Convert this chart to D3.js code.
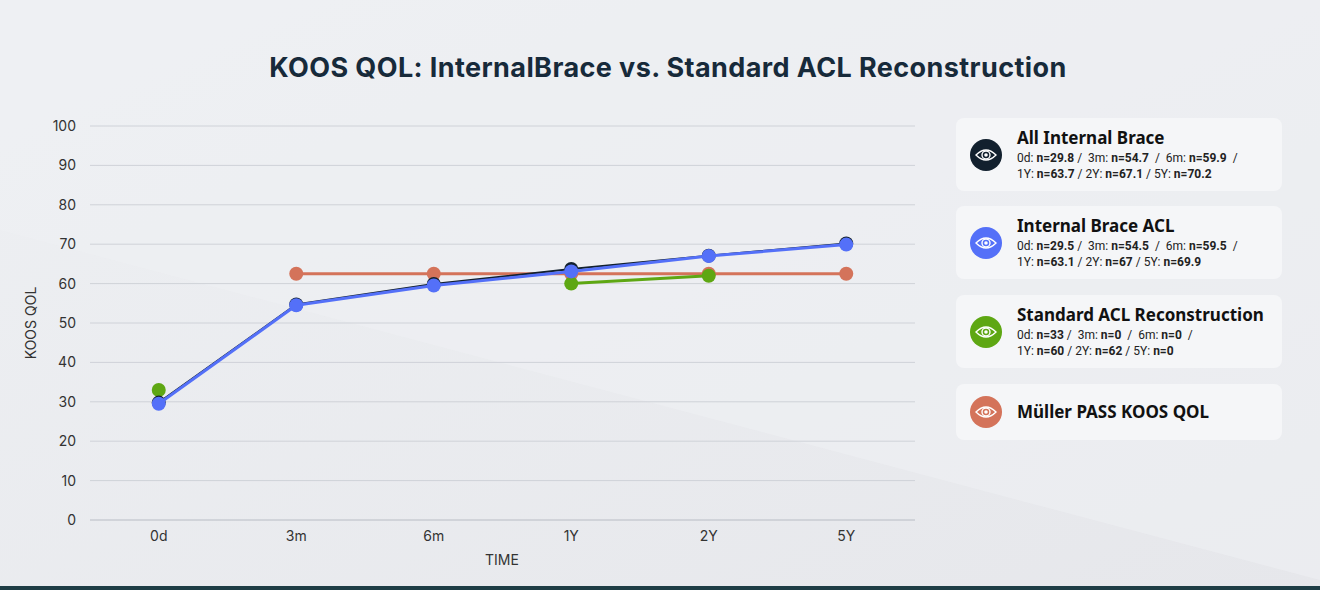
<!DOCTYPE html>
<html><head><meta charset="utf-8">
<script src="https://cdn.jsdelivr.net/npm/d3@7"></script>
<style>
body{margin:0;background:#e8e9ed;font-family:Inter,"Noto Sans",sans-serif;}
.card{position:absolute;left:956px;width:326px;background:#f5f6f8;border-radius:8px;}
.card .ic{position:absolute;left:14px;width:32px;height:32px;border-radius:50%;}
.card .t{position:absolute;left:61px;font-family:"Noto Sans",sans-serif;font-weight:700;font-size:17px;color:#111;}
.card .s{position:absolute;left:61px;font-family:Roboto,sans-serif;font-size:12px;color:#222;line-height:16px;}
</style></head>
<body>
<svg id="chart" width="1320" height="590"></svg>
<div id="legend"></div>
<script>
var categories = ["0d", "3m", "6m", "1Y", "2Y", "5Y"];
var allIB = [29.8, 54.7, 59.9, 63.7, 67.1, 70.2];
var ibACL = [29.5, 54.5, 59.5, 63.1, 67, 69.9];
var standard = [33, null, null, 60, 62, null];
var pass = [null, 62.5, 62.5, 62.5, 62.5, 62.5];
var yTicks = [0, 10, 20, 30, 40, 50, 60, 70, 80, 90, 100];

var series = [
  {name: "All Internal Brace", values: allIB, color: "#12202e", sub: ["0d", "29.8", "3m", "54.7", "6m", "59.9", "1Y", "63.7", "2Y", "67.1", "5Y", "70.2"]},
  {name: "Internal Brace ACL", values: ibACL, color: "#5470f8", sub: ["0d", "29.5", "3m", "54.5", "6m", "59.5", "1Y", "63.1", "2Y", "67", "5Y", "69.9"]},
  {name: "Standard ACL Reconstruction", values: standard, color: "#5ea713", sub: ["0d", "33", "3m", "0", "6m", "0", "1Y", "60", "2Y", "62", "5Y", "0"]},
  {name: "Müller PASS KOOS QOL", values: pass, color: "#d4735a", sub: null}
];

var svg = d3.select("#chart");
var defs = svg.append("defs");
var g = defs.append("linearGradient").attr("id", "bg").attr("x1", 0).attr("y1", 0).attr("x2", 1).attr("y2", 1);
g.append("stop").attr("offset", 0).attr("stop-color", "#eef0f3");
g.append("stop").attr("offset", 1).attr("stop-color", "#e6e7eb");
svg.append("rect").attr("width", 1320).attr("height", 590).attr("fill", "url(#bg)");
svg.append("path").attr("d", "M0,230 L1320,580 L1320,0 L0,0 Z").attr("fill", "#eef0f4").attr("opacity", 0.6);
svg.append("rect").attr("y", 586).attr("width", 1320).attr("height", 4).attr("fill", "#1e3d45");

svg.append("text").attr("x", 668).attr("y", 77).attr("text-anchor", "middle")
  .attr("font-family", "Inter,sans-serif").attr("font-weight", 700).attr("font-size", 27)
  .attr("letter-spacing", 0.4).attr("fill", "#172a3a").text("KOOS QOL: InternalBrace vs. Standard ACL Reconstruction");

var x = d3.scaleBand().domain(categories).range([90, 915]);
var y = d3.scaleLinear().domain([0, 100]).range([520, 126]);

svg.append("g").selectAll("line").data(yTicks).join("line")
  .attr("x1", 90).attr("x2", 915).attr("y1", d => y(d)).attr("y2", d => y(d))
  .attr("stroke", d => d === 0 ? "#b8bcc4" : "#cfd2d8").attr("stroke-width", 1);
svg.append("g").selectAll("text").data(yTicks).join("text")
  .attr("x", 76).attr("y", d => y(d) + 5).attr("text-anchor", "end")
  .attr("font-size", 14).attr("fill", "#333").attr("font-family", "Inter,sans-serif").text(d => d);
svg.append("g").selectAll("text").data(categories).join("text")
  .attr("x", d => x(d) + x.bandwidth() / 2).attr("y", 541).attr("text-anchor", "middle")
  .attr("font-size", 14).attr("fill", "#333").attr("font-family", "Inter,sans-serif").text(d => d);
svg.append("text").attr("x", 502).attr("y", 565).attr("text-anchor", "middle")
  .attr("font-size", 14).attr("fill", "#333").text("TIME");
svg.append("text").attr("transform", "translate(36,323) rotate(-90)").attr("text-anchor", "middle")
  .attr("font-size", 14).attr("fill", "#333").text("KOOS QOL");

var line = d3.line().defined(d => d != null)
  .x((d, i) => x(categories[i]) + x.bandwidth() / 2).y(d => y(d));

// draw order: pass, standard, all IB, IB ACL
[3, 2, 0, 1].forEach(function(k) {
  var s = series[k];
  var lg = svg.append("g");
  lg.append("path").attr("d", line(s.values)).attr("fill", "none")
    .attr("stroke", s.color).attr("stroke-width", k === 0 ? 2 : 3);
  var pts = s.values.map((v, i) => ({v: v, i: i})).filter(d => d.v != null);
  lg.selectAll("circle").data(pts).join("circle")
    .attr("cx", d => x(categories[d.i]) + x.bandwidth() / 2).attr("cy", d => y(d.v))
    .attr("r", 7).attr("fill", s.color);
});

var tops = [118, 206, 295, 384];
var heights = [73, 73, 73, 56];
var leg = d3.select("#legend");
series.forEach(function(s, k) {
  var c = leg.append("div").attr("class", "card").style("top", tops[k] + "px").style("height", heights[k] + "px");
  var icTop = (heights[k] - 32) / 2;
  var ic = c.append("div").attr("class", "ic").style("top", icTop + "px").style("background", s.color);
  ic.html('<svg width="32" height="32"><path d="M6,16 Q16,6 26,16 Q16,26 6,16 Z" fill="none" stroke="#fff" stroke-width="1.4"/><circle cx="16" cy="16" r="4" fill="none" stroke="#fff" stroke-width="1.4"/><circle cx="16" cy="16" r="1.8" fill="#fff"/></svg>');
  if (s.sub) {
    c.append("div").attr("class", "t").style("top", "8px").text(s.name);
    var p = s.sub, b = v => "<b>n=" + v + "</b>";
    c.append("div").attr("class", "s").style("top", "32px").html(
      p[0] + ": " + b(p[1]) + " /&nbsp; " + p[2] + ": " + b(p[3]) + " &nbsp;/&nbsp; " + p[4] + ": " + b(p[5]) + " &nbsp;/<br>" +
      p[6] + ": " + b(p[7]) + " / " + p[8] + ": " + b(p[9]) + " / " + p[10] + ": " + b(p[11]));
  } else {
    c.append("div").attr("class", "t").style("top", "16px").text(s.name);
  }
});
</script>
</body></html>
